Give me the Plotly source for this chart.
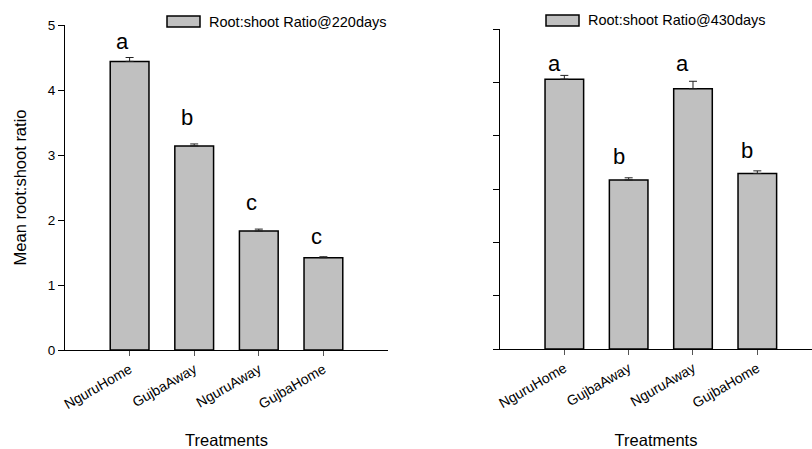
import plotly.graph_objects as go

W, H = 812, 449

categories = ["NguruHome", "GujbaAway", "NguruAway", "GujbaHome"]

ratio_220 = [4.44, 3.14, 1.83, 1.42]
err_220 = [0.06, 0.03, 0.03, 0.015]
letters_220 = ["a", "b", "c", "c"]
letter_y_220 = [4.74, 3.58, 2.27, 1.74]

ratio_430 = [5.06, 3.17, 4.88, 3.29]
err_430 = [0.07, 0.04, 0.14, 0.05]
letters_430 = ["a", "b", "a", "b"]
letter_y_430 = [5.36, 3.60, 5.36, 3.73]

legend_220 = "Root:shoot Ratio@220days"
legend_430 = "Root:shoot Ratio@430days"

FONT = "Liberation Sans, Arial, sans-serif"
BAR_FILL = "#c0c0c0"


def px(x):
    return x / W


def py(y):
    return 1 - y / H


fig = go.Figure()

fig.add_trace(go.Bar(
    x=list(range(len(categories))), y=ratio_220, width=0.6,
    marker=dict(color=BAR_FILL, line=dict(color="black", width=1.5)),
    error_y=dict(type="data", array=err_220, arrayminus=[0] * 4, symmetric=False,
                 color="#222", thickness=1, width=4),
    xaxis="x", yaxis="y", showlegend=False, name=legend_220,
))
fig.add_trace(go.Bar(
    x=list(range(len(categories))), y=ratio_430, width=0.6,
    marker=dict(color=BAR_FILL, line=dict(color="black", width=1.5)),
    error_y=dict(type="data", array=err_430, arrayminus=[0] * 4, symmetric=False,
                 color="#222", thickness=1, width=4),
    xaxis="x2", yaxis="y2", showlegend=False, name=legend_430,
))

xcommon = dict(
    tickmode="array", tickvals=list(range(len(categories))), ticktext=categories,
    tickangle=-30, ticks="outside", ticklen=5, tickcolor="#555", tickwidth=1,
    showline=True, linecolor="black", linewidth=1, showgrid=False, zeroline=False,
    tickfont=dict(family=FONT, size=14, color="black"),
    title=dict(text="Treatments", font=dict(family=FONT, size=16.5, color="black"), standoff=30),
    automargin=False,
)
ycommon = dict(
    ticks="outside", ticklen=6, tickcolor="black", tickwidth=1,
    showline=True, linecolor="black", linewidth=1, showgrid=False, zeroline=False,
    tickfont=dict(family=FONT, size=13.5, color="black"), automargin=False,
)

fig.update_layout(
    width=W, height=H, margin=dict(l=0, r=0, t=0, b=0),
    paper_bgcolor="white", plot_bgcolor="white",
    bargap=0.4,
    xaxis=dict(domain=[px(65), px(388)], range=[-1, 4], anchor="y", **xcommon),
    yaxis=dict(domain=[py(350), py(25)], range=[0, 5], dtick=1, anchor="x",
               title=dict(text="Mean root:shoot ratio", font=dict(family=FONT, size=16.5, color="black"),
                          standoff=17),
               **ycommon),
    xaxis2=dict(domain=[px(500), 1.0], range=[-1, 3.85], anchor="y2", **xcommon),
    yaxis2=dict(domain=[py(349), py(29)], range=[0, 6], dtick=1, anchor="x2",
                showticklabels=False, **ycommon),
)

annotations = []
for i, (lt, ly) in enumerate(zip(letters_220, letter_y_220)):
    annotations.append(dict(x=i, y=ly, xref="x", yref="y", text=lt, showarrow=False,
                            xshift=-7, font=dict(family=FONT, size=22, color="black")))
for i, (lt, ly) in enumerate(zip(letters_430, letter_y_430)):
    annotations.append(dict(x=i, y=ly, xref="x2", yref="y2", text=lt, showarrow=False,
                            xshift=-10, font=dict(family=FONT, size=22, color="black")))

# legend boxes drawn as shapes with text labels
legends = [(legend_220, 167, 200, 16, 27, 207), (legend_430, 546, 579, 15, 26, 586)]
shapes = []
for text, x0, x1, y0, y1, tx in legends:
    shapes.append(dict(type="rect", xref="paper", yref="paper",
                       x0=px(x0), x1=px(x1), y0=py(y1), y1=py(y0),
                       fillcolor=BAR_FILL, line=dict(color="black", width=1.5)))
    annotations.append(dict(x=px(tx), y=py((y0 + y1) / 2), xref="paper", yref="paper",
                            text=text, showarrow=False, xanchor="left", yanchor="middle",
                            font=dict(family=FONT, size=14.5, color="black")))

fig.update_layout(annotations=annotations, shapes=shapes)

fig.write_html("out.html", config={"displayModeBar": False},
               post_script="document.body.style.margin='0';")
